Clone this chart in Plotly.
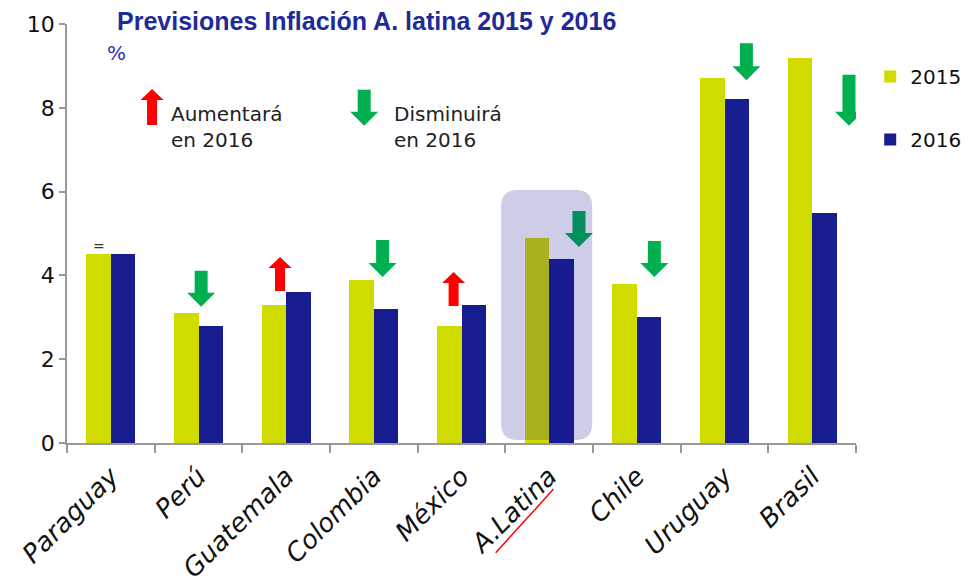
import plotly.graph_objects as go

# Datos
paises = ["Paraguay", "Perú", "Guatemala", "Colombia", "México", "A.Latina", "Chile", "Uruguay", "Brasil"]
infl_2015 = [4.5, 3.1, 3.3, 3.9, 2.8, 4.9, 3.8, 8.7, 9.2]
infl_2016 = [4.5, 2.8, 3.6, 3.2, 3.3, 4.4, 3.0, 8.2, 5.5]

# Flechas: posición (índice de categoría + desplazamiento), valor de la punta/base, dirección, tamaño
flecha_x = [1.03, 1.93, 3.10, 3.91, 5.34, 6.20, 7.25, 8.42, 0.47, 2.89]
flecha_y = [3.25, 3.63, 3.96, 3.27, 4.68, 3.96, 8.66, 7.57, 7.59, 7.57]
flecha_dir = ["down", "up", "down", "up", "down", "down", "down", "down", "up", "down"]
flecha_largo = [36, 34, 37, 34, 36, 36, 37, 51, 36, 36]

C2015 = "#D0DC00"
C2016 = "#171C8F"
VERDE = "#00B050"
ROJO = "#FF0000"
FONT = "DejaVu Sans"

idx = list(range(len(paises)))
W = 0.28

fig = go.Figure()
fig.add_trace(go.Bar(x=idx, y=infl_2015, width=W, offset=-W, name="2015",
                     marker=dict(color=C2015, line=dict(width=0)), legendgroup="a"))
fig.add_trace(go.Bar(x=idx, y=infl_2016, width=W, offset=0, name="2016",
                     marker=dict(color=C2016, line=dict(width=0)), legendgroup="b"))


def flecha(direc, largo, ancho=28, tallo=13, cabeza=14):
    a, s = ancho / 2, tallo / 2
    if direc == "down":  # ancla en la punta
        pts = [(-s, largo), (s, largo), (s, cabeza), (a, cabeza), (0, 0), (-a, cabeza), (-s, cabeza)]
    else:  # ancla en la base
        pts = [(-s, 0), (s, 0), (s, largo - cabeza), (a, largo - cabeza), (0, largo), (-a, largo - cabeza), (-s, largo - cabeza)]
    return "M " + " L ".join(f"{x},{y}" for x, y in pts) + " Z"


shapes = []
for x, y, d, l in zip(flecha_x, flecha_y, flecha_dir, flecha_largo):
    if d == "up":
        path = flecha(d, l, ancho=23, tallo=10, cabeza=11)
    else:
        path = flecha(d, l)
    shapes.append(dict(type="path", xref="x", yref="y", xsizemode="pixel", ysizemode="pixel",
                       xanchor=x, yanchor=y, path=path,
                       fillcolor=ROJO if d == "up" else VERDE, line=dict(width=0)))

# Recuadro A.Latina (redondeado, semitransparente)
l_, r_, b_, t_, rad = -48, 43, 3, 253, 16
caja = (f"M {l_+rad},{b_} L {r_-rad},{b_} Q {r_},{b_} {r_},{b_+rad} L {r_},{t_-rad} "
        f"Q {r_},{t_} {r_-rad},{t_} L {l_+rad},{t_} Q {l_},{t_} {l_},{t_-rad} "
        f"L {l_},{b_+rad} Q {l_},{b_} {l_+rad},{b_} Z")
shapes.append(dict(type="path", xref="x", yref="y", xsizemode="pixel", ysizemode="pixel",
                   xanchor=5, yanchor=0, path=caja, layer="above",
                   fillcolor="rgba(27,27,145,0.22)", line=dict(width=0)))

# Subrayado rojo de A.Latina
shapes.append(dict(type="line", xref="x", yref="paper", x0=4.39, y0=-0.262, x1=5.05, y1=-0.11,
                   line=dict(color=ROJO, width=1.5)))

annotations = [
    dict(text="Aumentará<br>en 2016", x=0.66, y=7.53, xref="x", yref="y", showarrow=False,
         xanchor="left", yanchor="middle", align="left", font=dict(family=FONT, size=20, color="#222")),
    dict(text="Disminuirá<br>en 2016", x=3.21, y=7.53, xref="x", yref="y", showarrow=False,
         xanchor="left", yanchor="middle", align="left", font=dict(family=FONT, size=20, color="#222")),
    dict(text="=", x=-0.13, y=4.7, xref="x", yref="y", showarrow=False,
         font=dict(family=FONT, size=14, color="#333")),
    dict(text="%", x=(105 - 67) / 789, y=(443 - 53) / 419, xref="paper", yref="paper", showarrow=False,
         xanchor="left", yanchor="middle", font=dict(family=FONT, size=20, color="#3030B0")),
]

# la página tiene 8 px de margen en el body: se compensa en los márgenes
fig.update_layout(
    title=dict(text="<b>Previsiones Inflación A. latina 2015 y 2016</b>", x=109 / 974, xanchor="left",
               y=1 - 13 / 577, yanchor="middle",
               font=dict(family="Liberation Sans", size=25, color="#1F2A99")),
    width=974, height=577,
    margin=dict(l=59, r=126, t=16, b=142, autoexpand=False),
    plot_bgcolor="white", paper_bgcolor="white",
    barmode="overlay", bargap=0,
    showlegend=True,
    legend=dict(x=1.018, y=0.921, xanchor="left", yanchor="top", tracegroupgap=34,
                font=dict(family=FONT, size=20, color="#111"), itemwidth=30,
                bgcolor="rgba(0,0,0,0)"),
    shapes=shapes,
    annotations=annotations,
    xaxis=dict(range=[-0.5, 8.5], tickvals=idx, ticktext=paises, tickangle=-45,
               ticks="", showgrid=False, zeroline=False, automargin=False, ticklabelstandoff=6,
               showline=True, linecolor="#999", linewidth=1.5,
               tickfont=dict(family="DejaVu Sans, sans-serif", size=26, color="#111", style="italic"),
               minor=dict(tickvals=[i - 0.5 for i in range(len(paises) + 1)], ticks="outside",
                          ticklen=8, tickcolor="#999", tickwidth=1.5)),
    yaxis=dict(range=[0, 10], dtick=2, showgrid=False, zeroline=False, automargin=False,
               showline=True, linecolor="#999", linewidth=1.5,
               ticks="outside", ticklen=6, tickcolor="#999", tickwidth=1.5,
               tickfont=dict(family=FONT, size=22, color="#111")),
)

fig.write_html("out.html")
